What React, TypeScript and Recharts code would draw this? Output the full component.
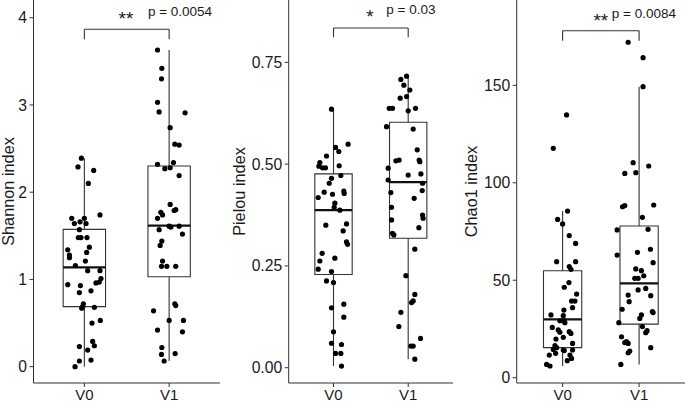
import React from 'react';
import { ScatterChart, Scatter, XAxis, YAxis, ReferenceArea, ReferenceLine } from 'recharts';

const categories = ['V0', 'V1'];

// [jitter offset from group centre, value]
const shannonV0 = [[-0.035,2.39],[-0.075,2.29],[0.11,2.25],[0.047,2.10],[0.184,1.74],[-0.149,1.70],[-0.118,1.64],[-0.051,1.66],[0,1.70],[0.02,1.64],[-0.059,1.57],[-0.071,1.48],[-0.04,1.48],[0.031,1.48],[-0.196,1.34],[-0.176,1.28],[-0.176,1.25],[0.059,1.37],[0.027,1.31],[-0.106,1.16],[0.012,1.21],[0.039,1.10],[0.184,1.10],[0.196,1.01],[0.176,0.97],[0.137,0.96],[-0.196,0.94],[-0.047,0.93],[-0.059,0.85],[0.078,0.87],[-0.012,0.72],[-0.02,0.69],[0.118,0.68],[-0.031,0.67],[0.09,0.50],[0.188,0.53],[-0.059,0.23],[0.098,0.29],[0.118,0.24],[0.039,0.19],[-0.059,0.065],[0.078,0.076],[-0.11,0.0]];
const shannonV1 = [[-0.137,3.63],[-0.086,3.42],[-0.09,3.30],[-0.137,3.03],[-0.118,2.92],[0.188,2.91],[0.012,2.74],[0.067,2.55],[0.118,2.54],[-0.137,2.32],[-0.051,2.27],[0.012,2.28],[0.051,2.34],[0.118,2.19],[0.012,1.86],[-0.098,1.77],[-0.078,1.74],[0.059,1.79],[0.078,1.80],[-0.137,1.70],[-0.118,1.57],[0,1.61],[0.02,1.60],[0.118,1.61],[0.157,1.52],[-0.086,1.44],[-0.106,1.39],[-0.078,1.21],[-0.09,1.15],[-0.027,1.15],[0.078,1.15],[-0.184,0.64],[0.067,0.72],[0.078,0.70],[-0.137,0.42],[0,0.53],[0.169,0.53],[0.157,0.40],[-0.086,0.22],[-0.09,0.14],[0.071,0.15],[-0.059,0.065]];
const pielouV0 = [[-0.027,0.635],[0.196,0.549],[0.027,0.541],[0.071,0.531],[-0.094,0.520],[-0.183,0.504],[-0.196,0.495],[-0.147,0.491],[-0.107,0.491],[0.076,0.496],[-0.027,0.465],[0.098,0.472],[-0.058,0.453],[-0.125,0.431],[-0.013,0.426],[0.138,0.434],[0.143,0.428],[-0.205,0.418],[0.018,0.404],[0.009,0.394],[0.085,0.387],[0.174,0.353],[-0.103,0.350],[0.129,0.336],[0.174,0.309],[0.188,0.303],[-0.152,0.281],[0.018,0.269],[-0.183,0.262],[-0.205,0.242],[-0.027,0.236],[-0.094,0.213],[0,0.209],[0.138,0.156],[-0.027,0.147],[0.138,0.124],[0,0.088],[-0.027,0.060],[0.107,0.057],[0.027,0.035],[0.098,0.035],[0.107,0.004]];
const pielouV1 = [[-0.022,0.716],[-0.098,0.708],[-0.058,0.694],[0.022,0.682],[-0.022,0.666],[-0.107,0.662],[-0.254,0.637],[-0.21,0.637],[0,0.631],[0.098,0.637],[-0.29,0.592],[0.067,0.586],[0.121,0.535],[0.147,0.510],[0.156,0.506],[-0.121,0.510],[-0.165,0.508],[-0.268,0.490],[-0.268,0.461],[0,0.473],[0.17,0.476],[0.192,0.453],[0.188,0.435],[-0.232,0.430],[0.08,0.416],[-0.223,0.394],[0.192,0.375],[0.2,0.367],[-0.223,0.363],[0.143,0.344],[-0.21,0.330],[-0.192,0.326],[0.089,0.291],[-0.031,0.226],[0.089,0.180],[0.067,0.164],[0.045,0.160],[-0.098,0.136],[-0.125,0.101],[0.165,0.072],[0.036,0.053],[0.067,0.053],[0.089,0.021]];
const chaoV0 = [[0.052,134.8],[-0.122,117.7],[0.065,85.5],[-0.065,81.2],[0,78.9],[0.087,72.9],[0.17,68.9],[-0.078,59.5],[0.17,59.5],[0.087,57.0],[0.109,55.6],[0.083,48.8],[0.022,46.4],[0.183,42.9],[0.117,39.3],[0.161,39.3],[0.017,34.7],[0.13,35.9],[-0.152,32.2],[0.009,31.8],[0.017,29.2],[0.03,28.2],[-0.035,29.2],[-0.135,25.8],[-0.057,24.5],[-0.035,23.3],[0.087,23.6],[0.109,22.7],[-0.087,19.8],[0.009,20.7],[0.13,17.6],[-0.1,16.4],[-0.078,15.4],[-0.122,14.5],[0.009,14.2],[0.022,13.9],[0.13,14.2],[-0.174,11.6],[-0.091,12.5],[0.096,11.6],[0.117,9.9],[0.061,8.7],[-0.209,6.8],[-0.165,6.0]];
const chaoV1 = [[-0.143,172.1],[0.052,164.2],[0.052,149.3],[-0.078,110.3],[-0.187,104.8],[-0.043,105.2],[0.126,108.6],[-0.217,87.7],[-0.187,88.3],[0.191,88.6],[0.043,82.3],[-0.287,75.8],[0.117,76.1],[-0.287,62.9],[-0.022,64.3],[0.148,65.9],[0.183,59.0],[-0.043,55.8],[0.03,54.9],[0.061,52.3],[-0.057,51.0],[-0.013,51.0],[0.087,45.8],[-0.013,45.0],[-0.143,42.4],[0.152,42.1],[-0.13,39.0],[-0.222,35.1],[0.03,32.2],[0.009,30.4],[0.174,33.9],[0.183,33.4],[-0.265,28.2],[0.043,26.2],[0.104,24.1],[0.087,23.1],[-0.23,21.0],[-0.165,18.5],[-0.187,18.0],[-0.143,17.6],[-0.122,13.7],[-0.143,12.8],[0.152,15.4],[-0.239,6.8]];

// [lower whisker, q1, median, q3, upper whisker]
const shannonBoxV0 = [0.0, 0.688, 1.139, 1.574, 2.39];
const shannonBoxV1 = [0.065, 1.03, 1.616, 2.30, 3.63];
const pielouBoxV0 = [0.004, 0.229, 0.387, 0.476, 0.635];
const pielouBoxV1 = [0.021, 0.318, 0.456, 0.603, 0.716];
const chaoBoxV0 = [6.0, 15.4, 29.9, 54.9, 85.5];
const chaoBoxV1 = [6.8, 27.5, 48.4, 77.8, 149.3];

const shannonTicks = [0, 1, 2, 3, 4];
const pielouTicks = [0, 0.25, 0.5, 0.75];
const chaoTicks = [0, 50, 100, 150];

const INK = '#1a1a1a';
const LINE = '#333333';
const FONT = '"Liberation Sans", Arial, Helvetica, sans-serif';

const Dot = (p: any) => <circle cx={p.cx} cy={p.cy} r={2.6} fill="#000" />;

const textShape = (text: string, size: number, anchor: 'start' | 'middle') => (p: any) => (
  <text x={p.cx} y={p.cy} fontSize={size} textAnchor={anchor} fill={INK} fontFamily={FONT}>{text}</text>
);

type PanelProps = {
  left: number; width: number; right: number; yWidth: number;
  domain: [number, number]; ticks: number[]; fmt?: (v: number) => string;
  title: string; titleX: number;
  v0: number[][]; v1: number[][]; box0: number[]; box1: number[];
  bracket: [number, number];
  stars: { x: number; y: number; text: string };
  ptext: { x: number; y: number; text: string };
};

function BoxParts(cx: number, b: number[], key: string) {
  return [
    <ReferenceLine key={key + 'lw'} segment={[{ x: cx, y: b[0] }, { x: cx, y: b[1] }]} stroke={LINE} strokeWidth={1.1} />,
    <ReferenceLine key={key + 'uw'} segment={[{ x: cx, y: b[3] }, { x: cx, y: b[4] }]} stroke={LINE} strokeWidth={1.1} />,
    <ReferenceArea key={key + 'bx'} x1={cx - 0.25} x2={cx + 0.25} y1={b[1]} y2={b[3]} fill="none" fillOpacity={0} stroke={LINE} strokeWidth={1.1} />,
    <ReferenceLine key={key + 'md'} segment={[{ x: cx - 0.25, y: b[2] }, { x: cx + 0.25, y: b[2] }]} stroke="#111" strokeWidth={2.2} />,
  ];
}

function Panel(p: PanelProps) {
  const pts = [
    ...p.v0.map(([o, v]) => ({ x: 1 + o, y: v })),
    ...p.v1.map(([o, v]) => ({ x: 2 + o, y: v })),
  ];
  const [bt, bl] = p.bracket;
  return (
    <div style={{ position: 'absolute', left: p.left, top: 0 }}>
      <ScatterChart width={p.width} height={402} margin={{ top: 0, right: p.right, bottom: 0, left: 0 }}>
        <XAxis type="number" dataKey="x" domain={[0.4, 2.6]} ticks={[1, 2]} interval={0}
          tickFormatter={(v: number) => categories[Math.round(v) - 1]} height={19}
          tickSize={4} tickMargin={2} stroke={LINE} tick={{ fill: INK, fontSize: 15 }} allowDataOverflow />
        <YAxis type="number" dataKey="y" domain={p.domain} ticks={p.ticks} interval={0} tickFormatter={p.fmt}
          width={p.yWidth} tickSize={4} tickMargin={2.5} stroke={LINE} tick={{ fill: INK, fontSize: 15.7 }} allowDataOverflow
          label={{ value: p.title, angle: -90, position: 'insideLeft', offset: p.titleX, style: { textAnchor: 'middle', fill: INK, fontSize: 16.3 } }} />
        {BoxParts(1, p.box0, 'a')}
        {BoxParts(2, p.box1, 'b')}
        <ReferenceLine segment={[{ x: 1, y: bt }, { x: 2, y: bt }]} stroke={LINE} strokeWidth={1.1} />
        <ReferenceLine segment={[{ x: 1, y: bt }, { x: 1, y: bl }]} stroke={LINE} strokeWidth={1.1} />
        <ReferenceLine segment={[{ x: 2, y: bt }, { x: 2, y: bl }]} stroke={LINE} strokeWidth={1.1} />
        <Scatter data={pts} shape={Dot} isAnimationActive={false} />
        <Scatter data={[{ x: p.stars.x, y: p.stars.y }]} shape={textShape(p.stars.text, 19, 'middle')} isAnimationActive={false} />
        <Scatter data={[{ x: p.ptext.x, y: p.ptext.y }]} shape={textShape(p.ptext.text, 13.5, 'start')} isAnimationActive={false} />
      </ScatterChart>
    </div>
  );
}

export default function App() {
  return (
    <div style={{ position: 'absolute', left: 0, top: 0, width: 685, height: 402, background: '#fff', fontFamily: FONT }}>
      <Panel left={0} width={222} right={2} yWidth={33.5} domain={[-0.187, 4.203]} ticks={shannonTicks}
        title="Shannon index" titleX={8.5} v0={shannonV0} v1={shannonV1} box0={shannonBoxV0} box1={shannonBoxV1}
        bracket={[3.867, 3.752]} stars={{ x: 1.49, y: 3.92, text: '**' }} ptext={{ x: 1.75, y: 4.02, text: 'p = 0.0054' }} />
      <Panel left={230} width={225} right={2} yWidth={58.7} domain={[-0.0376, 0.9031]} ticks={pielouTicks}
        fmt={(v: number) => v.toFixed(2)}
        title="Pielou index" titleX={9} v0={pielouV0} v1={pielouV1} box0={pielouBoxV0} box1={pielouBoxV1}
        bracket={[0.8344, 0.8114]} stars={{ x: 1.488, y: 0.846, text: '*' }} ptext={{ x: 1.707, y: 0.8688, text: 'p = 0.03' }} />
      <Panel left={458} width={227} right={0} yWidth={58.7} domain={[-2.73, 193.78]} ticks={chaoTicks}
        title="Chao1 index" titleX={13} v0={chaoV0} v1={chaoV1} box0={chaoBoxV0} box1={chaoBoxV1}
        bracket={[178.0, 172.9]} stars={{ x: 1.499, y: 180.0, text: '**' }} ptext={{ x: 1.6425, y: 184.4, text: 'p = 0.0084' }} />
    </div>
  );
}
